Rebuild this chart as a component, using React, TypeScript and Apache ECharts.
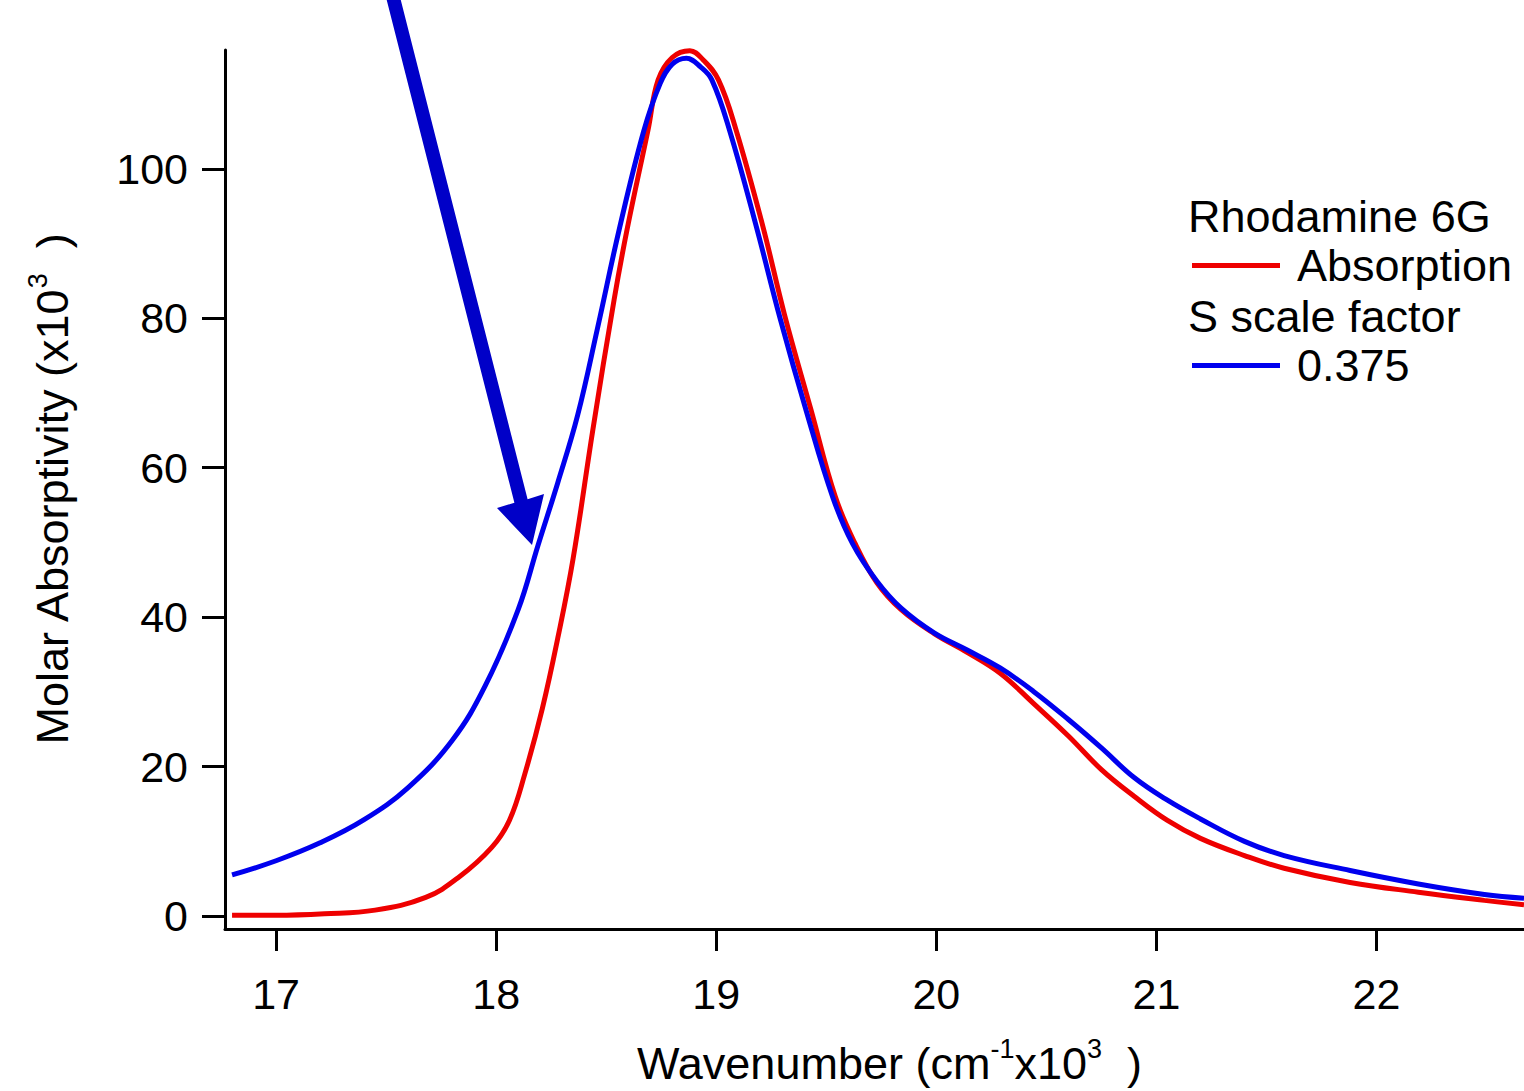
import React, { useEffect, useRef } from "react";
import * as echarts from "echarts";

// Wavenumber (cm^-1 x10^3) and molar absorptivity (x10^3)
const absorptionX = [16.8, 17.0, 17.22, 17.45, 17.68, 17.83, 17.98, 18.06, 18.13, 18.21, 18.28, 18.35, 18.44, 18.536, 18.595, 18.69, 18.736, 18.8, 18.88, 18.94, 19.01, 19.09, 19.21, 19.31, 19.43, 19.54, 19.63, 19.73, 19.84, 19.99, 20.14, 20.29, 20.44, 20.6, 20.75, 20.9, 21.05, 21.2, 21.4, 21.58, 21.88, 22.19, 22.49, 22.67];
const absorptionY = [0.1, 0.1, 0.3, 0.8, 2.5, 5.2, 9.2, 12.8, 19.0, 27.8, 37.2, 47.9, 65.2, 82.5, 91.9, 105.2, 111.9, 114.9, 115.8, 114.6, 111.9, 105.2, 92.5, 80.5, 67.8, 56.2, 49.9, 44.6, 41.0, 37.8, 35.3, 32.5, 28.5, 24.1, 19.6, 16.0, 12.8, 10.4, 8.1, 6.4, 4.5, 3.2, 2.1, 1.5];

const scaledX = [16.8, 17.0, 17.2, 17.4, 17.6, 17.8, 17.95, 18.1, 18.19, 18.28, 18.37, 18.46, 18.56, 18.67, 18.745, 18.8, 18.864, 18.93, 18.98, 19.06, 19.18, 19.29, 19.41, 19.53, 19.62, 19.73, 19.84, 19.99, 20.14, 20.29, 20.44, 20.6, 20.75, 20.9, 21.05, 21.2, 21.4, 21.58, 21.88, 22.19, 22.49, 22.67];
const scaledY = [5.5, 7.4, 9.8, 12.9, 17.2, 23.5, 30.8, 41.0, 49.6, 58.0, 67.0, 78.6, 92.0, 105.0, 111.4, 114.0, 114.8, 113.6, 111.9, 105.2, 92.5, 80.0, 67.5, 56.0, 49.8, 44.8, 41.2, 37.9, 35.6, 33.2, 30.1, 26.3, 22.5, 18.5, 15.5, 13.0, 10.0, 8.1, 6.1, 4.3, 2.9, 2.4];

const xTicks = [17, 18, 19, 20, 21, 22];
const yTicks = [0, 20, 40, 60, 80, 100];

const seriesNames = ["Absorption", "0.375"];
const legendHeaders = ["Rhodamine 6G", "S scale factor"];

const FONT = "'Liberation Sans', Arial, Helvetica, sans-serif";
const RED = "#ee0000";
const BLUE = "#0000ee";
const ARROW = "#0000c8";

function pairs(xs: number[], ys: number[]) {
  return xs.map((x, i) => [x, ys[i]]);
}

export default function App() {
  const ref = useRef<HTMLDivElement>(null);

  useEffect(() => {
    if (!ref.current) return;
    const chart = echarts.init(ref.current, undefined, { renderer: "svg" });

    const nameRich = {
      n: { fontSize: 45, fontFamily: FONT, color: "#000", lineHeight: 51, verticalAlign: "bottom" as const },
      s: { fontSize: 27, fontFamily: FONT, color: "#000", lineHeight: 27, verticalAlign: "top" as const },
    };

    const legendBase = {
      left: 1192,
      padding: 0,
      icon: "rect",
      itemWidth: 88,
      itemHeight: 5,
      textStyle: { fontSize: 45, fontFamily: FONT, color: "#000", padding: [0, 0, 0, 12] },
    };

    const option: any = {
      animation: false,
      backgroundColor: "#ffffff",
      grid: { left: 225, right: 0, top: 50, bottom: 159, containLabel: false },
      xAxis: {
        type: "value",
        min: 16.768,
        max: 22.67,
        name: "{n|Wavenumber (cm}{s|-1}{n|x10}{s|3}{n|  )}",
        nameLocation: "middle",
        nameGap: 106,
        nameTextStyle: { rich: nameRich, padding: [0, 0, 0, 30] },
        axisLine: { show: true, onZero: false, lineStyle: { color: "#000", width: 3 } },
        axisTick: { show: true, length: 22, customValues: xTicks, lineStyle: { color: "#000", width: 3 } },
        axisLabel: { customValues: xTicks, margin: 43, fontSize: 43, fontFamily: FONT, color: "#000" },
        splitLine: { show: false },
      },
      yAxis: {
        type: "value",
        min: -1.73,
        max: 115.9,
        name: "{n|Molar Absorptivity (x10}{s|3}{n|  )}",
        nameLocation: "middle",
        nameGap: 150,
        nameRotate: 90,
        nameTextStyle: { rich: nameRich },
        axisLine: { show: true, onZero: false, lineStyle: { color: "#000", width: 3 } },
        axisTick: { show: true, length: 23, customValues: yTicks, lineStyle: { color: "#000", width: 3 } },
        axisLabel: { customValues: yTicks, margin: 37, fontSize: 43, fontFamily: FONT, color: "#000" },
        splitLine: { show: false },
      },
      legend: [
        { ...legendBase, data: [seriesNames[0]], top: 243 },
        { ...legendBase, data: [seriesNames[1]], top: 343 },
      ],
      series: [
        {
          name: seriesNames[0],
          type: "line",
          data: pairs(absorptionX, absorptionY),
          showSymbol: false,
          symbol: "none",
          smooth: 0.4,
          color: RED,
          lineStyle: { color: RED, width: 5 },
          z: 2,
        },
        {
          name: seriesNames[1],
          type: "line",
          data: pairs(scaledX, scaledY),
          showSymbol: false,
          symbol: "none",
          smooth: 0.4,
          color: BLUE,
          lineStyle: { color: BLUE, width: 5 },
          z: 3,
        },
      ],
      graphic: [
        {
          type: "text",
          left: 1188,
          top: 194,
          style: { text: legendHeaders[0], fontSize: 45, fontFamily: FONT, fill: "#000" },
        },
        {
          type: "text",
          left: 1188,
          top: 294,
          style: { text: legendHeaders[1], fontSize: 45, fontFamily: FONT, fill: "#000" },
        },
        {
          type: "polygon",
          z: 10,
          shape: {
            points: [
              [384.6, -8.3],
              [397.8, -11.7],
              [527.6, 499.3],
              [544, 494],
              [532, 545],
              [497, 508],
              [514.4, 502.7],
            ],
          },
          style: { fill: ARROW },
        },
      ],
    };

    chart.setOption(option);
    return () => chart.dispose();
  }, []);

  return (
    <div
      ref={ref}
      style={{ position: "absolute", left: 0, top: 0, width: 1524, height: 1091, background: "#fff" }}
    />
  );
}
